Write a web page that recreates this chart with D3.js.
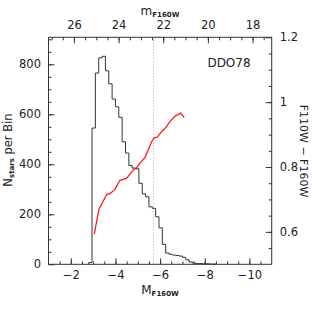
<!DOCTYPE html>
<html><head><meta charset="utf-8">
<script src="https://cdn.jsdelivr.net/npm/d3@7"></script>
<style>body{margin:0;background:#fff}svg{display:block}text{font-family:"DejaVu Sans",sans-serif;fill:#222}</style>
</head><body>
<svg id="c" width="312" height="312"></svg>
<script>
// Histogram: left edges of bins (M_F160W) and counts
const binLow = [-2.80,-2.95,-3.10,-3.25,-3.40,-3.55,-3.70,-3.85,-4.00,-4.15,-4.30,-4.45,-4.60,-4.75,-4.90,-5.05,-5.20,-5.35,-5.50,-5.65,-5.80,-5.95,-6.10,-6.25,-6.40,-6.55,-6.70,-6.85,-7.00,-7.15,-7.30,-7.45,-7.60,-7.75,-7.90,-8.05,-8.20,-8.35];
const binWidth = 0.15;
const counts = [7,545,765,826,832,774,722,661,630,588,490,445,395,385,382,324,282,270,230,224,190,146,80,45,40,37,35,33,28,18,9,5,3,3,2,2,1,1];
// Mean colour line
const colorM = [-3.05,-3.26,-3.38,-3.61,-3.76,-3.98,-4.20,-4.50,-4.65,-4.80,-4.95,-5.10,-5.32,-5.62,-5.73,-5.87,-6.07,-6.26,-6.44,-6.67,-6.92,-7.08];
const colorVal = [0.593,0.670,0.685,0.716,0.718,0.731,0.759,0.765,0.778,0.791,0.798,0.813,0.829,0.878,0.890,0.892,0.909,0.922,0.940,0.957,0.966,0.952];
const cutM = -5.7;
const distMod = 28.14;
const xTicks = [-2,-4,-6,-8,-10];
const topTicks = [26,24,22,20,18];
const yTicks = [0,200,400,600,800];
const y2Ticks = [0.6,0.8,1,1.2];
const label = "DDO78";

const svg = d3.select("#c");
const L=48.5,R=271.7,T=37.3,B=264.3;
const x = d3.scaleLinear().domain([-1,-11]).range([L,R]);
const xm = d3.scaleLinear().domain([-1+distMod,-11+distMod]).range([L,R]);
const y = d3.scaleLinear().domain([0,908]).range([B,T]);
const y2 = d3.scaleLinear().domain([0.5,1.2]).range([B,T]);

const g = svg.append("g");
function styleAxis(sel){
  sel.selectAll(".domain").remove();
  sel.selectAll(".tick line").attr("stroke","#333").attr("stroke-width",1);
  sel.selectAll("text").attr("font-size",11.5);
}
const fmt = d => (d<0?"\u2212"+(-d):String(d));
function minor(axisGen, vals){ return axisGen.tickValues(vals).tickFormat("").tickSizeInner(-3).tickSizeOuter(0); }
g.append("g").attr("transform",`translate(0,${B})`).call(minor(d3.axisBottom(x), d3.range(-1.5,-11,-0.5))).call(styleAxis);
g.append("g").attr("transform",`translate(0,${B})`).call(d3.axisBottom(x).tickValues(xTicks).tickFormat(fmt).tickSizeInner(-6).tickSizeOuter(0).tickPadding(7)).call(styleAxis);
g.append("g").attr("transform",`translate(0,${T})`).call(minor(d3.axisTop(xm), d3.range(27,17,-0.5))).call(styleAxis);
g.append("g").attr("transform",`translate(0,${T})`).call(d3.axisTop(xm).tickValues(topTicks).tickSizeInner(-6).tickSizeOuter(0).tickPadding(8)).call(styleAxis);
g.append("g").attr("transform",`translate(${L},0)`).call(minor(d3.axisLeft(y), d3.range(50,908,50))).call(styleAxis);
g.append("g").attr("transform",`translate(${L},0)`).call(d3.axisLeft(y).tickValues(yTicks).tickSizeInner(-6).tickSizeOuter(0).tickPadding(7.5)).call(styleAxis);
g.append("g").attr("transform",`translate(${R},0)`).call(minor(d3.axisRight(y2), d3.range(0.55,1.2,0.05))).call(styleAxis);
g.append("g").attr("transform",`translate(${R},0)`).call(d3.axisRight(y2).tickValues(y2Ticks).tickFormat(d=>String(d)).tickSizeInner(-6).tickSizeOuter(0).tickPadding(8)).call(styleAxis);

svg.append("rect").attr("x",L).attr("y",T).attr("width",R-L).attr("height",B-T).attr("fill","none").attr("stroke","#333").attr("stroke-width",1);

// dotted cut
svg.append("line").attr("x1",x(cutM)).attr("x2",x(cutM)).attr("y1",T).attr("y2",B)
  .attr("stroke","#999").attr("stroke-width",0.8).attr("stroke-dasharray","1,2");

// histogram step
let path = d3.path();
path.moveTo(x(binLow[0]), y(0));
binLow.forEach((b,i)=>{
  path.lineTo(x(b), y(counts[i]));
  path.lineTo(x(b-binWidth), y(counts[i]));
});
path.lineTo(x(binLow[binLow.length-1]-binWidth), y(0));
svg.append("path").attr("d",path.toString()).attr("fill","none").attr("stroke","#333").attr("stroke-width",1);

// red line
const line = d3.line().x((d,i)=>x(colorM[i])).y((d,i)=>y2(colorVal[i]));
svg.append("path").attr("d",line(colorM)).attr("fill","none").attr("stroke","#ff1a1a").attr("stroke-width",1.3);

svg.append("text").attr("x",229).attr("y",67).attr("text-anchor","middle").attr("font-size",12).text(label);

// axis labels
const bl = svg.append("text").attr("x",160).attr("y",294).attr("text-anchor","middle").attr("font-size",12);
bl.append("tspan").text("M");
bl.append("tspan").attr("font-size",7).attr("font-weight","bold").attr("dy",2).text("F160W");
const tl = svg.append("text").attr("x",160).attr("y",15).attr("text-anchor","middle").attr("font-size",12);
tl.append("tspan").text("m");
tl.append("tspan").attr("font-size",7).attr("font-weight","bold").attr("dy",2).text("F160W");
const ll = svg.append("text").attr("transform","translate(12,150) rotate(-90)").attr("text-anchor","middle").attr("font-size",11.5);
ll.append("tspan").text("N");
ll.append("tspan").attr("font-size",7).attr("font-weight","bold").attr("dy",2).text("stars");
ll.append("tspan").attr("dy",-2).text(" per Bin");
svg.append("text").attr("transform","translate(300,151) rotate(90)").attr("text-anchor","middle").attr("font-size",11).text("F110W \u2212 F160W");
</script>
</body></html>
